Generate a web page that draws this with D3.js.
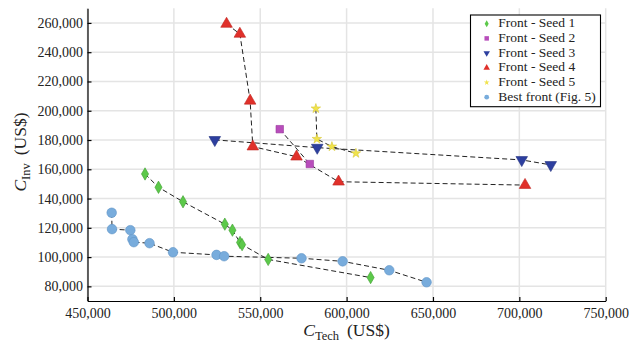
<!DOCTYPE html>
<html>
<head>
<meta charset="utf-8">
<script src="https://cdnjs.cloudflare.com/ajax/libs/d3/7.8.5/d3.min.js"></script>
<style>
  body { margin: 0; background: #fff; }
  .grid line { stroke: #e4e4e4; stroke-width: 1.5; }
  .axis path, .axis line { stroke: #000; stroke-width: 1.2; }
</style>
</head>
<body>
<script>
// values: [C_Tech, C_Inv]
var seed1 = [[483300,156800],[491100,147700],[505300,137800],[529500,122500],[533900,118400],
             [538300,110000],[539500,108500],[554600,98400],[613900,86000]];
var seed2 = [[561300,187400],[578700,163600]];
var seed3 = [[523700,180100],[583000,174800],[701400,166400],[718200,163000]];
var seed4 = [[530500,259300],[538200,252500],[544150,206800],[545700,175500],[571000,168600],
             [595350,151500],[703300,149200]];
var seed5 = [[582200,201500],[582800,180700],[591500,175500],[605400,170900]];
var best  = [[464000,130300],[464200,119100],[474800,118400],[476000,112200],[476800,110200],
             [485900,109500],[499500,103300],[524700,101500],[529100,100600],[573900,99200],
             [597700,97100],[624700,91000],[646300,82800]];

var xTicks = [450000,500000,550000,600000,650000,700000,750000];
var yTicks = [80000,100000,120000,140000,160000,180000,200000,220000,240000,260000];

var FONT = "Liberation Serif";

var series = [
  {name:"Front - Seed 1", data:seed1, color:"#5cc94a", stroke:"#3f9e30", shape:d3.symbolDiamond, size:44, rot:0, leg:14},
  {name:"Front - Seed 2", data:seed2, color:"#b84dbb", stroke:"#9a3a9d", shape:d3.symbolSquare, size:56, rot:0, leg:20},
  {name:"Front - Seed 3", data:seed3, color:"#2d3f9f", stroke:"#223080", shape:d3.symbolTriangle, size:58, rot:180, leg:18},
  {name:"Front - Seed 4", data:seed4, color:"#e0302a", stroke:"#c02520", shape:d3.symbolTriangle, size:58, rot:0, leg:18},
  {name:"Front - Seed 5", data:seed5, color:"#f1e34c", stroke:"#d8c93a", shape:d3.symbolStar, size:28, rot:0, leg:10},
  {name:"Best front (Fig. 5)", data:best, color:"#78acdc", stroke:"#5f93c6", shape:d3.symbolCircle, size:72, rot:0, leg:18}
];

var W = 629, H = 349;
var margin = {top: 8.3, right: 23.3, bottom: 48, left: 87.5};

var svg = d3.select("body").append("svg").attr("width", W).attr("height", H);

var x = d3.scaleLinear().domain([450000, 750000]).range([margin.left, W - margin.right]);
var y = d3.scaleLinear().domain([70000, 270000]).range([H - margin.bottom, margin.top]);

// grid
var grid = svg.append("g").attr("class", "grid");
grid.selectAll(".vg").data(xTicks).enter().append("line")
  .attr("x1", d => x(d)).attr("x2", d => x(d))
  .attr("y1", y.range()[0]).attr("y2", y.range()[1]);
grid.selectAll(".hg").data(yTicks).enter().append("line")
  .attr("x1", x.range()[0]).attr("x2", x.range()[1])
  .attr("y1", d => y(d)).attr("y2", d => y(d));

var fmt = d3.format(",");

var gx = svg.append("g").attr("class", "axis")
  .attr("transform", "translate(0," + y.range()[0] + ")")
  .call(d3.axisBottom(x).tickValues(xTicks).tickFormat(fmt).tickSizeInner(-4).tickSizeOuter(0).tickPadding(7));

var gy = svg.append("g").attr("class", "axis")
  .attr("transform", "translate(" + x.range()[0] + ",0)")
  .call(d3.axisLeft(y).tickValues(yTicks).tickFormat(fmt).tickSizeInner(-4).tickSizeOuter(0).tickPadding(4.5));

[gx, gy].forEach(function(g) {
  g.attr("font-family", FONT).attr("font-size", 14);
  g.selectAll("text").attr("font-family", FONT).attr("font-size", 14).attr("fill", "#222");
});

// dashed connecting lines
var line = d3.line().x(d => x(d[0])).y(d => y(d[1]));
series.forEach(function(s) {
  svg.append("path").datum(s.data)
    .attr("d", line)
    .attr("fill", "none")
    .attr("stroke", "#222")
    .attr("stroke-width", 1)
    .attr("stroke-dasharray", "5,3");
});

// markers
series.forEach(function(s) {
  svg.append("g").selectAll("path").data(s.data).enter().append("path")
    .attr("d", d3.symbol().type(s.shape).size(s.size))
    .attr("transform", d => "translate(" + x(d[0]) + "," + y(d[1]) + ") rotate(" + s.rot + ")")
    .attr("fill", s.color)
    .attr("stroke", s.stroke)
    .attr("stroke-width", 0.6);
});

// axis titles
var xt = svg.append("text")
  .attr("x", 346.5).attr("y", 336)
  .attr("text-anchor", "middle")
  .attr("font-family", FONT).attr("font-size", 17.5).attr("fill", "#222");
xt.append("tspan").attr("font-style", "italic").text("C");
xt.append("tspan").attr("dy", 3.5).attr("font-size", 12.5).text("Tech");
xt.append("tspan").attr("dy", -3.5).attr("dx", 8).text("(US$)");

var yt = svg.append("text")
  .attr("transform", "translate(26,152) rotate(-90)")
  .attr("text-anchor", "middle")
  .attr("font-family", FONT).attr("font-size", 17.5).attr("fill", "#222");
yt.append("tspan").attr("font-style", "italic").text("C");
yt.append("tspan").attr("dy", 3.5).attr("font-size", 12.5).text("Inv");
yt.append("tspan").attr("dy", -3.5).attr("dx", 8).text("(US$)");

// legend
var lg = svg.append("g").attr("transform", "translate(470.5,15)");
lg.append("rect").attr("width", 130).attr("height", 91.7)
  .attr("fill", "#fff").attr("stroke", "#000").attr("stroke-width", 1.1);
series.forEach(function(s, i) {
  var base = 12.3 + i * 14.7;
  lg.append("path")
    .attr("d", d3.symbol().type(s.shape).size(s.leg))
    .attr("transform", "translate(16.2," + (base - 3.6) + ") rotate(" + s.rot + ")")
    .attr("fill", s.color);
  lg.append("text").attr("x", 27.8).attr("y", base)
    .attr("font-family", FONT).attr("font-size", 13.5).attr("fill", "#222").text(s.name);
});
</script>
</body>
</html>
